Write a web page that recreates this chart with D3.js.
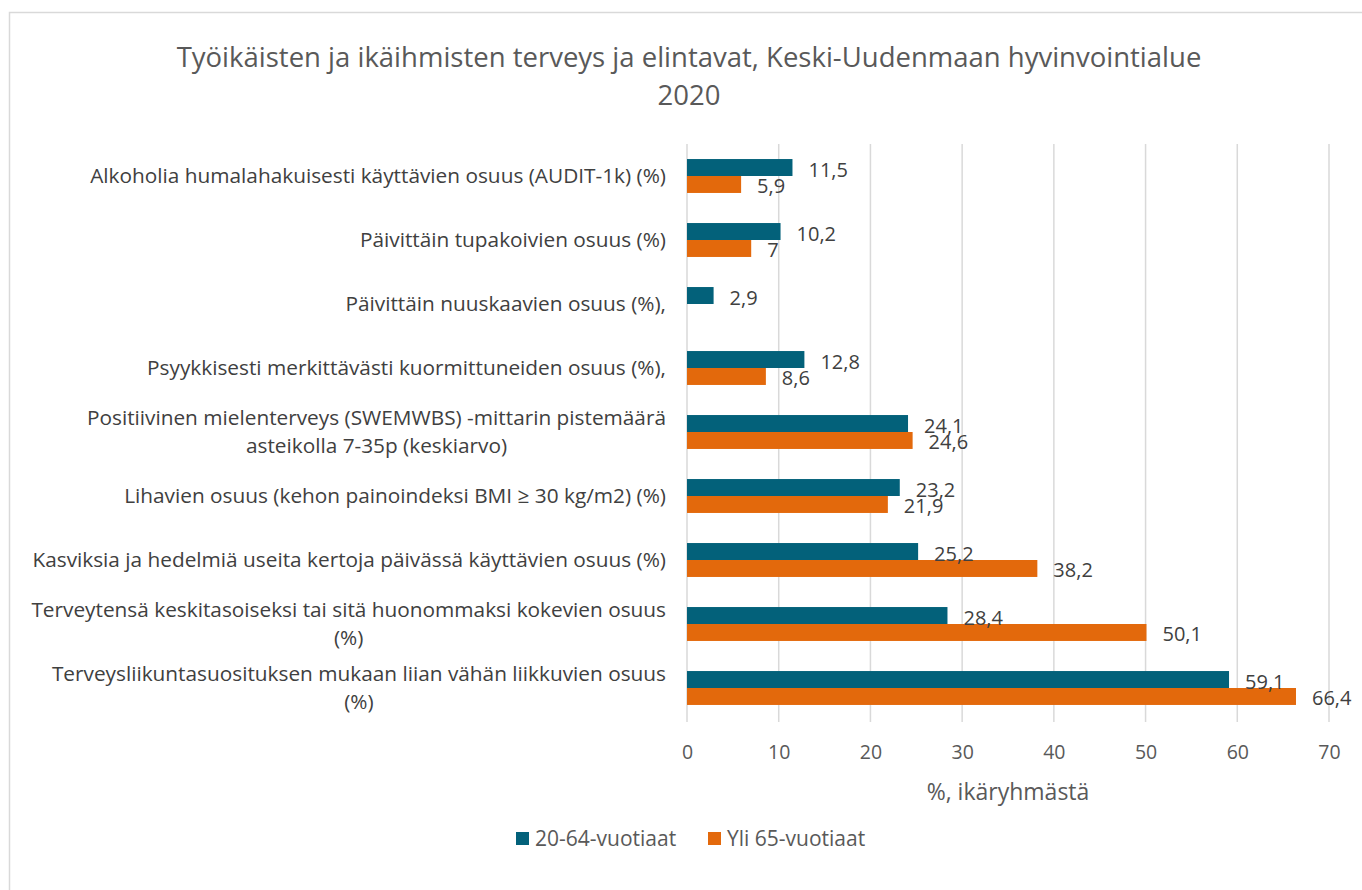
<!DOCTYPE html>
<html><head><meta charset="utf-8">
<script src="https://cdn.jsdelivr.net/npm/d3@7"></script>
<style>
html,body{margin:0;padding:0;background:#fff;}
text{font-family:"Open Sans","Noto Sans",sans-serif;}
</style></head>
<body><svg id="c" width="1362" height="890"></svg>
<script>
const titleLines = ["Työikäisten ja ikäihmisten terveys ja elintavat, Keski-Uudenmaan hyvinvointialue", "2020"];
const categories = [
  "Alkoholia humalahakuisesti käyttävien osuus (AUDIT-1k) (%)",
  "Päivittäin tupakoivien osuus (%)",
  "Päivittäin nuuskaavien osuus (%),",
  "Psyykkisesti merkittävästi kuormittuneiden osuus (%),",
  "Positiivinen mielenterveys (SWEMWBS) -mittarin pistemäärä\nasteikolla 7-35p (keskiarvo)",
  "Lihavien osuus (kehon painoindeksi BMI ≥ 30 kg/m2) (%)",
  "Kasviksia ja hedelmiä useita kertoja päivässä käyttävien osuus (%)",
  "Terveytensä keskitasoiseksi tai sitä huonommaksi kokevien osuus\n(%)",
  "Terveysliikuntasuosituksen mukaan liian vähän liikkuvien osuus\n(%)"
];
const seriesNames = ["20-64-vuotiaat", "Yli 65-vuotiaat"];
const working = [11.5, 10.2, 2.9, 12.8, 24.1, 23.2, 25.2, 28.4, 59.1];
const elderly = [5.9, 7, null, 8.6, 24.6, 21.9, 38.2, 50.1, 66.4];
const xTicks = [0, 10, 20, 30, 40, 50, 60, 70];
const xTitle = "%, ikäryhmästä";
const colors = ["#03617A", "#E3690C"];

const svg = d3.select("#c");
const series = [working, elderly];

// border
svg.append("rect").attr("x", 9.5).attr("y", 12.5).attr("width", 1360).attr("height", 880)
  .attr("fill", "none").attr("stroke", "#d9d9d9").attr("stroke-width", 1.5);

// title
svg.append("g").selectAll("text").data(titleLines).join("text")
  .attr("x", 689).attr("y", (d, i) => 67 + i * 38)
  .attr("text-anchor", "middle").attr("fill", "#595959")
  .style("font-size", "27.5px").text(d => d);

const x = d3.scaleLinear().domain([0, 70]).range([687, 1329]);
const y = d3.scaleBand().domain(categories).range([144, 720]).paddingInner(0.47).paddingOuter(0.235);
const ySub = d3.scaleBand().domain([0, 1]).range([0, y.bandwidth()]);

// gridlines
svg.append("g").selectAll("line").data(xTicks).join("line")
  .attr("x1", d => x(d)).attr("x2", d => x(d))
  .attr("y1", 144).attr("y2", 722)
  .attr("stroke", "#d9d9d9").attr("stroke-width", 1.5);

// x axis labels
const xAxis = d3.axisBottom(x).tickValues(xTicks).tickSize(0).tickPadding(0).tickFormat(d => d);
const gx = svg.append("g").attr("transform", "translate(0,744)").call(xAxis);
gx.select(".domain").remove();
gx.selectAll("text").attr("fill", "#595959").style("font-size", "19.5px").attr("dy", "0.35em").attr("y", 8);

svg.append("text").attr("x", (x(0) + x(70)) / 2).attr("y", 792).attr("dy", "0.35em")
  .attr("text-anchor", "middle").attr("fill", "#595959").style("font-size", "23px").text(xTitle);

// bars
categories.forEach((c, ci) => {
  series.forEach((s, si) => {
    const v = s[ci];
    if (v == null) return;
    const by = y(c) + ySub(si);
    svg.append("rect").attr("x", x(0)).attr("y", by)
      .attr("width", x(v) - x(0)).attr("height", ySub.bandwidth())
      .attr("fill", colors[si]);
  });
});
// value labels
categories.forEach((c, ci) => {
  series.forEach((s, si) => {
    const v = s[ci];
    if (v == null) return;
    const by = y(c) + ySub(si) + ySub.bandwidth() / 2;
    svg.append("text").attr("x", x(v) + 16).attr("y", by + 2).attr("dy", "0.35em")
      .attr("fill", "#404040").style("font-size", "20px")
      .text(String(v).replace(".", ","));
  });
});

// category labels
const labelRight = 666;
categories.forEach(c => {
  const lines = c.split("\n");
  const cy = y(c) + y.bandwidth() / 2;
  const g = svg.append("g");
  const lh = 28;
  const ts = lines.map((ln, i) => g.append("text")
    .attr("y", cy + (i - (lines.length - 1) / 2) * lh).attr("dy", "0.35em")
    .attr("fill", "#404040").style("font-size", "20.8px").text(ln));
  if (lines.length === 1) {
    ts[0].attr("x", labelRight).attr("text-anchor", "end");
  } else {
    const w = d3.max(ts, t => t.node().getComputedTextLength());
    ts.forEach(t => t.attr("x", labelRight - w / 2).attr("text-anchor", "middle"));
  }
});

// legend
const legX = [516, 708];
seriesNames.forEach((n, i) => {
  svg.append("rect").attr("x", legX[i]).attr("y", 832).attr("width", 13).attr("height", 13).attr("fill", colors[i]);
  svg.append("text").attr("x", legX[i] + 19).attr("y", 838.5).attr("dy", "0.35em")
    .attr("fill", "#595959").style("font-size", "21px").text(n);
});
</script></body></html>
